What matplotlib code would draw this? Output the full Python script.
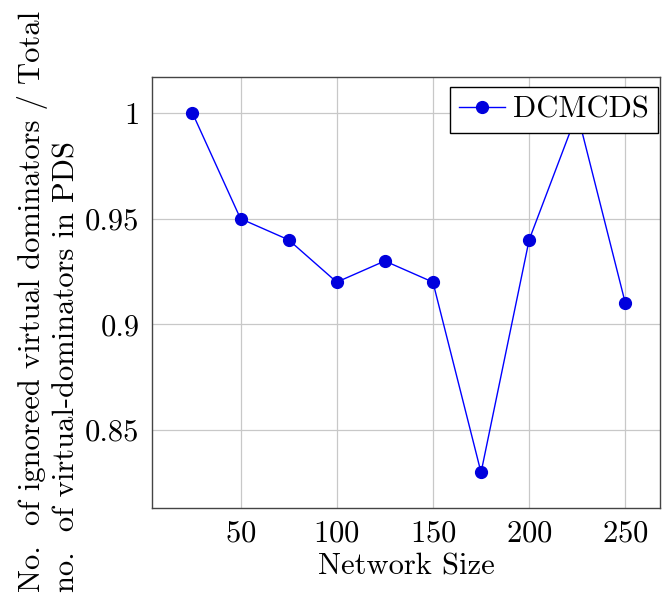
import matplotlib
matplotlib.use("Agg")
import matplotlib.pyplot as plt

plt.rcParams['font.family'] = 'serif'
plt.rcParams['font.serif'] = ['cmr10']
plt.rcParams['mathtext.fontset'] = 'cm'
plt.rcParams['axes.formatter.use_mathtext'] = True

network_size = [25, 50, 75, 100, 125, 150, 175, 200, 225, 250]
ratio = [1.0, 0.95, 0.94, 0.92, 0.93, 0.92, 0.83, 0.94, 1.0, 0.91]

fig = plt.figure(figsize=(6.62, 5.96), dpi=100)
ax = fig.add_axes([152 / 662, 1 - 508 / 596, 508 / 662, 431 / 596])

ax.plot(network_size, ratio, color='blue', linewidth=1, marker='o',
        markersize=8.5, markerfacecolor='#0000dd', markeredgecolor='#0000dd',
        label='DCMCDS', zorder=3)

ax.set_xlim(4, 268)
ax.set_ylim(0.8132, 1.017)
ax.set_xticks([50, 100, 150, 200, 250])
ax.set_yticks([0.85, 0.9, 0.95, 1])
ax.set_yticklabels(['0.85', '0.9', '0.95', '1'])
ax.grid(True, color='#c8c8c8', linewidth=0.9)
ax.set_axisbelow(True)
ax.tick_params(labelsize=22, length=0, pad=9)
for s in ax.spines.values():
    s.set_color('#444444')
    s.set_linewidth(1)

ax.set_xlabel('Network Size', fontsize=22, labelpad=4)
ax.set_ylabel('No.  of ignoreed virtual dominators / Total\nno.  of virtual-dominators in PDS',
              fontsize=22, linespacing=1.25, multialignment='left')
ax.yaxis.set_label_coords(-0.14, 0.48)

leg = ax.legend(loc='upper right', bbox_to_anchor=(0.996, 0.977),
                fontsize=22, fancybox=False, framealpha=1,
                edgecolor='black', borderpad=0.3, handlelength=1.5,
                borderaxespad=0, handletextpad=0.25)
leg.get_frame().set_linewidth(1)

fig.savefig('out.png', dpi=100)
